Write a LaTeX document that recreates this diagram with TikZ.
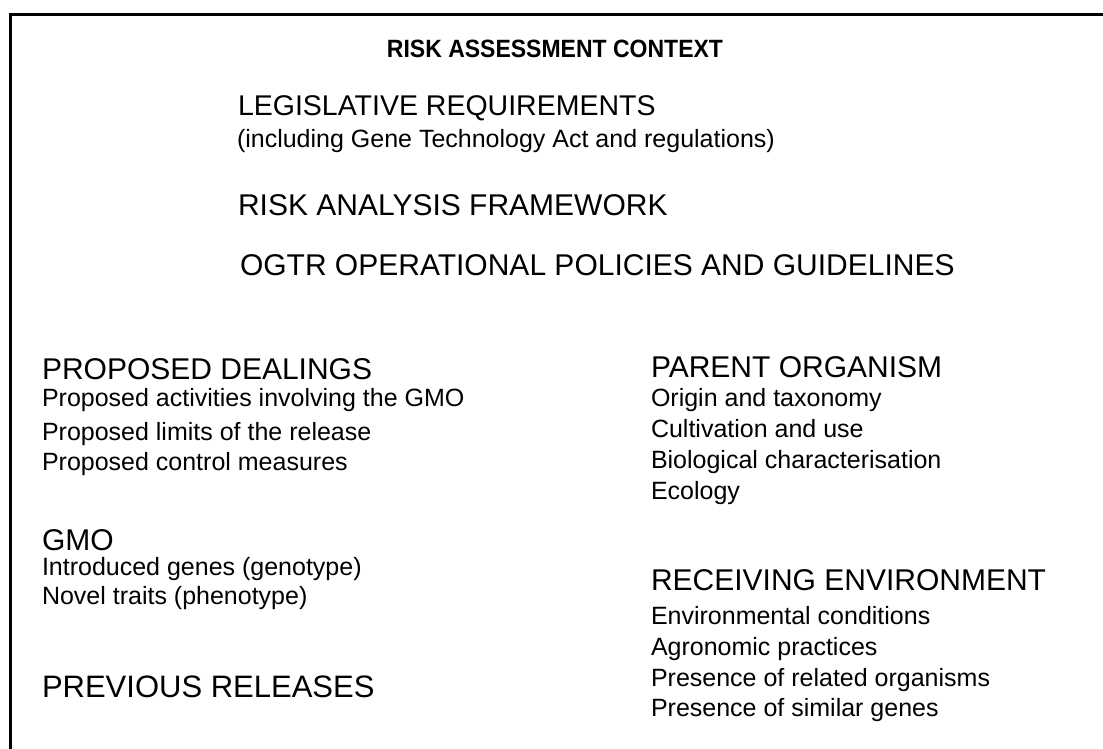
\documentclass[tikz,border=0pt]{standalone}
\usepackage{fontspec}
\setmainfont{Liberation Sans}
\newfontfamily\titlefont[FakeStretch=0.92]{Liberation Sans}
\begin{document}
\begin{tikzpicture}[x=1pt,y=-1pt,
  every node/.style={inner sep=0pt,outer sep=0pt,text=black},
  ttl/.style={anchor=base,font=\titlefont\bfseries\fontsize{25}{30}\selectfont},
  head/.style={anchor=base west,font=\fontsize{30}{36}\selectfont},
  item/.style={anchor=base west,font=\fontsize{25}{30}\selectfont}]
\useasboundingbox (0,0) rectangle (1103,749);
\fill[white] (0,0) rectangle (1103,749);
\draw[line width=3pt] (10.5,749) -- (10.5,14.2) -- (1103,14.2);
% top block
\node[ttl] (title) at (555,58) {RISK ASSESSMENT CONTEXT};
\node[head,font=\fontsize{28.5}{34}\selectfont] (leg) at (238,116) {LEGISLATIVE REQUIREMENTS};
\node[item] (legsub) at (237,148) {(including Gene Technology Act and regulations)};
\node[head] (raf) at (238,215) {RISK ANALYSIS FRAMEWORK};
\node[head] (ogtr) at (240,275) {OGTR OPERATIONAL POLICIES AND GUIDELINES};
% left column
\node[head] (pd) at (42,379) {PROPOSED DEALINGS};
\node[item] (pd1) at (42,406) {Proposed activities involving the GMO};
\node[item] (pd2) at (42,440) {Proposed limits of the release};
\node[item] (pd3) at (42,470) {Proposed control measures};
\node[head] (gmo) at (42,550) {GMO};
\node[item] (gmo1) at (42,575) {Introduced genes (genotype)};
\node[item] (gmo2) at (42,604) {Novel traits (phenotype)};
\node[head,font=\fontsize{31}{36}\selectfont] (prev) at (42,697) {PREVIOUS RELEASES};
% right column
\node[head] (po) at (651,377) {PARENT ORGANISM};
\node[item] (po1) at (651,406) {Origin and taxonomy};
\node[item] (po2) at (651,437) {Cultivation and use};
\node[item] (po3) at (651,468) {Biological characterisation};
\node[item] (po4) at (651,499) {Ecology};
\node[head] (re) at (651,590) {RECEIVING ENVIRONMENT};
\node[item] (re1) at (651,624) {Environmental conditions};
\node[item] (re2) at (651,655) {Agronomic practices};
\node[item] (re3) at (651,686) {Presence of related organisms};
\node[item] (re4) at (651,716) {Presence of similar genes};
\end{tikzpicture}
\end{document}
